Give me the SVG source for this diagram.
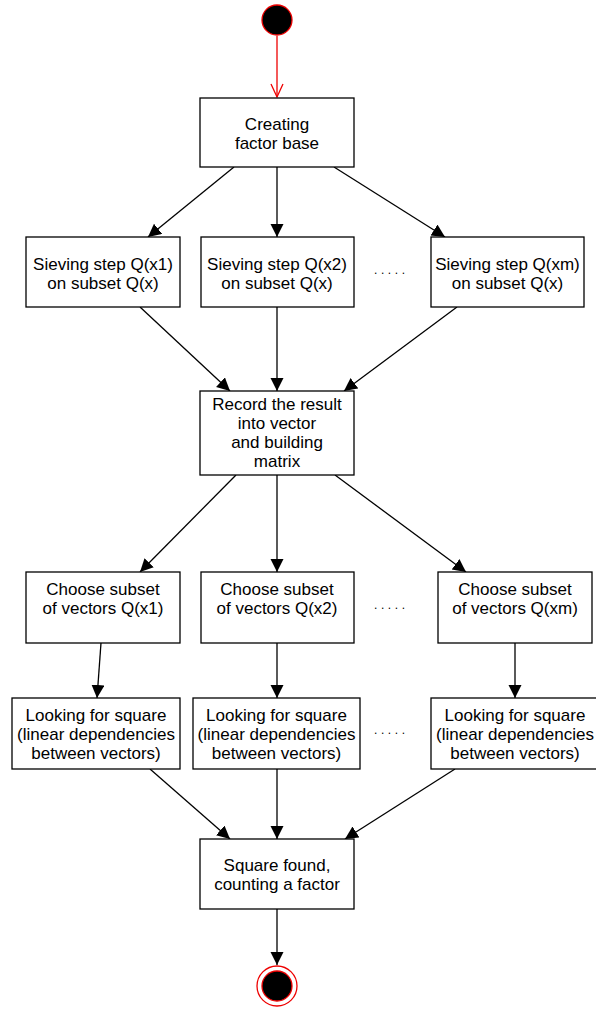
<svg xmlns="http://www.w3.org/2000/svg" width="596" height="1010" viewBox="0 0 596 1010">
<style>
.box{fill:#fff;stroke:#000;stroke-width:1.3}
.t{font-family:"Liberation Sans",Arial,sans-serif;font-size:17px;fill:#000;text-anchor:middle}
.dots{font-family:"Liberation Sans",Arial,sans-serif;font-size:12px;fill:#000;letter-spacing:3.6px}
.e{stroke:#000;stroke-width:1.3;fill:none;marker-end:url(#ah)}
</style>
<defs>
<marker id="ah" markerUnits="userSpaceOnUse" markerWidth="14" markerHeight="14" refX="13" refY="6.5" orient="auto">
<path d="M0,0 L13,6.5 L0,13 z" fill="#000"/>
</marker>
</defs>
<g id="connectors">
<line x1="277" y1="36" x2="277" y2="97" stroke="#e00" stroke-width="1.3"/>
<polyline points="271,84 277,97 283,84" fill="none" stroke="#e00" stroke-width="1.3"/>
<line class="e" x1="234" y1="167" x2="148" y2="237"/>
<line class="e" x1="277" y1="167" x2="277" y2="237"/>
<line class="e" x1="334" y1="167" x2="445" y2="237"/>
<line class="e" x1="140" y1="307" x2="230" y2="391"/>
<line class="e" x1="277" y1="307" x2="277" y2="391"/>
<line class="e" x1="457" y1="307" x2="344" y2="391"/>
<line class="e" x1="236" y1="475" x2="140" y2="572"/>
<line class="e" x1="277" y1="475" x2="277" y2="572"/>
<line class="e" x1="335" y1="475" x2="466" y2="572"/>
<line class="e" x1="101" y1="643" x2="97" y2="698"/>
<line class="e" x1="277" y1="643" x2="277" y2="698"/>
<line class="e" x1="515" y1="643" x2="515" y2="698"/>
<line class="e" x1="150" y1="769" x2="230" y2="839"/>
<line class="e" x1="277" y1="769" x2="277" y2="839"/>
<line class="e" x1="455" y1="769" x2="345" y2="839"/>
<line class="e" x1="277" y1="909" x2="277" y2="965"/>
</g>
<g id="start">
<circle cx="277" cy="20" r="15" fill="#000" stroke="#e00" stroke-width="1.3"/>
</g>
<g id="creating">
<rect class="box" x="200" y="98" width="154" height="69"/>
<text class="t" x="277" y="130">Creating</text>
<text class="t" x="277" y="149">factor base</text>
</g>
<g id="sieve1">
<rect class="box" x="26" y="237" width="154" height="70"/>
<text class="t" x="103" y="270">Sieving step Q(x1)</text>
<text class="t" x="103" y="289">on subset Q(x)</text>
</g>
<g id="sieve2">
<rect class="box" x="201" y="237" width="153" height="70"/>
<text class="t" x="277" y="270">Sieving step Q(x2)</text>
<text class="t" x="277" y="289">on subset Q(x)</text>
</g>
<text class="dots" x="374" y="274">.....</text>
<g id="sieve3">
<rect class="box" x="431" y="237" width="153" height="70"/>
<text class="t" x="507.5" y="270">Sieving step Q(xm)</text>
<text class="t" x="507.5" y="289">on subset Q(x)</text>
</g>
<g id="record">
<rect class="box" x="200" y="391" width="154" height="84"/>
<text class="t" x="277" y="410">Record the result</text>
<text class="t" x="277" y="429">into vector</text>
<text class="t" x="277" y="448">and building</text>
<text class="t" x="277" y="467">matrix</text>
</g>
<g id="choose1">
<rect class="box" x="26" y="572" width="154" height="71"/>
<text class="t" x="103" y="595">Choose subset</text>
<text class="t" x="103" y="614">of vectors Q(x1)</text>
</g>
<g id="choose2">
<rect class="box" x="201" y="572" width="153" height="71"/>
<text class="t" x="277" y="595">Choose subset</text>
<text class="t" x="277" y="614">of vectors Q(x2)</text>
</g>
<text class="dots" x="374" y="609">.....</text>
<g id="choose3">
<rect class="box" x="438" y="572" width="154" height="71"/>
<text class="t" x="515" y="595">Choose subset</text>
<text class="t" x="515" y="614">of vectors Q(xm)</text>
</g>
<g id="look1">
<rect class="box" x="12" y="698" width="168" height="71"/>
<text class="t" x="96" y="721">Looking for square</text>
<text class="t" x="96" y="740">(linear dependencies</text>
<text class="t" x="96" y="759">between vectors)</text>
</g>
<g id="look2">
<rect class="box" x="193" y="698" width="167" height="71"/>
<text class="t" x="276.5" y="721">Looking for square</text>
<text class="t" x="276.5" y="740">(linear dependencies</text>
<text class="t" x="276.5" y="759">between vectors)</text>
</g>
<text class="dots" x="374" y="734">.....</text>
<g id="look3">
<rect class="box" x="431" y="698" width="168" height="71"/>
<text class="t" x="515" y="721">Looking for square</text>
<text class="t" x="515" y="740">(linear dependencies</text>
<text class="t" x="515" y="759">between vectors)</text>
</g>
<g id="square">
<rect class="box" x="200" y="839" width="154" height="70"/>
<text class="t" x="277" y="871">Square found,</text>
<text class="t" x="277" y="890">counting a factor</text>
</g>
<g id="end">
<circle cx="277" cy="986" r="20" fill="#fff" stroke="#e00" stroke-width="1.3"/>
<circle cx="277" cy="986" r="15" fill="#000" stroke="#e00" stroke-width="1.3"/>
</g>
</svg>
